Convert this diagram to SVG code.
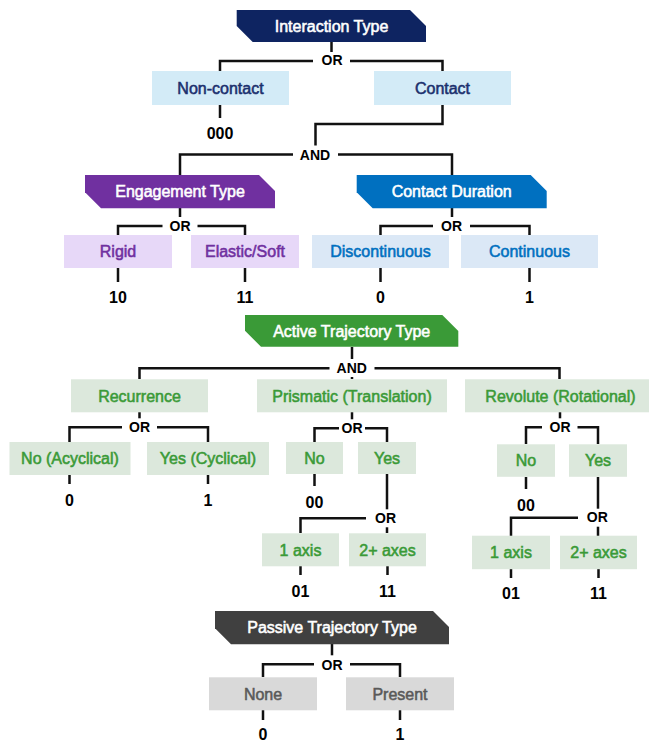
<svg xmlns="http://www.w3.org/2000/svg" width="649" height="744" viewBox="0 0 649 744">
<style>
text{font-family:"Liberation Sans",Arial,sans-serif;text-anchor:middle}
.ht{fill:#fff;stroke:#fff;stroke-width:.55;font-size:16px}
.nt{font-size:16px;stroke-width:.55}
.num{font-size:16px;font-weight:bold;fill:#000}
.gate{font-size:14px;font-weight:bold;fill:#000}
.gbg{fill:#fff}
.ln{fill:none;stroke:#111;stroke-width:2.5}
.h-navy{fill:#0e2461}.b-navy{fill:#d3ebf7}.t-navy{fill:#1b306e;stroke:#1b306e}
.h-purple{fill:#7030a0}.b-purple{fill:#e7d8f8}.t-purple{fill:#7030a0;stroke:#7030a0}
.h-blue{fill:#0070c0}.b-blue{fill:#dbe8f6}.t-blue{fill:#0070c0;stroke:#0070c0}
.h-green{fill:#3a9a37}.b-green{fill:#dce8dc}.t-green{fill:#3a9a37;stroke:#3a9a37}
.h-gray{fill:#404040}.b-gray{fill:#d9d9d9}.t-gray{fill:#595959;stroke:#595959}
</style>
<rect width="649" height="744" fill="#fff"/>

<g id="connectors">
<path class="ln" d="M331.5,42 V61 M220,71 V61 H442.5 V71"/>
<path class="ln" d="M220,105 V118"/>
<path class="ln" d="M442.5,105 V124 H315.5 V154.5"/>
<path class="ln" d="M180,175 V154.5 H452 V175"/>
<path class="ln" d="M180,208 V226 M118,235 V226 H245 V235"/>
<path class="ln" d="M118,268 V282 M245,268 V282"/>
<path class="ln" d="M452,208 V226 M380.5,235 V226 H529.5 V235"/>
<path class="ln" d="M380.5,268 V282 M529.5,268 V282"/>
<path class="ln" d="M352,347 V379 M139.5,379 V368.3 H559.5 V379"/>
<path class="ln" d="M139.5,412 V427.3 M69.5,442 V427.3 H208 V442"/>
<path class="ln" d="M69.5,475 V484 M208,475 V484"/>
<path class="ln" d="M352,412 V428.3 M314.5,442 V428.3 H387 V442"/>
<path class="ln" d="M314.5,474 V486 M387,474 V533 M300.5,533 V518.3 H387"/>
<path class="ln" d="M300.5,566 V575 M387.5,566 V575"/>
<path class="ln" d="M560,412 V427.3 M526,444 V427.3 H598 V444"/>
<path class="ln" d="M526,477 V489 M598,477 V536 M511,536 V517.7 H598"/>
<path class="ln" d="M511,569 V578 M598.5,569 V578"/>
<path class="ln" d="M332,644 V664.3 M263,677 V664.3 H400 V677"/>
<path class="ln" d="M263,710 V720 M400,710 V720"/>
</g>

<g id="gates">
<rect class="gbg" x="313" y="52" width="37" height="18"/><text class="gate" x="332" y="65">OR</text>
<rect class="gbg" x="293" y="145.5" width="45" height="18"/><text class="gate" x="315" y="159.5">AND</text>
<rect class="gbg" x="162.5" y="217" width="35" height="18"/><text class="gate" x="180" y="230.5">OR</text>
<rect class="gbg" x="433" y="217" width="37" height="18"/><text class="gate" x="451.5" y="230.5">OR</text>
<rect class="gbg" x="329.5" y="359" width="45" height="18"/><text class="gate" x="351.7" y="372.8">AND</text>
<rect class="gbg" x="122" y="418.3" width="35" height="18"/><text class="gate" x="139.5" y="431.8">OR</text>
<rect class="gbg" x="339" y="419.3" width="26" height="18"/><text class="gate" x="352" y="432.8">OR</text>
<rect class="gbg" x="366" y="509.3" width="36" height="18"/><text class="gate" x="385.5" y="522.8">OR</text>
<rect class="gbg" x="542" y="418.3" width="35.5" height="18"/><text class="gate" x="560" y="431.8">OR</text>
<rect class="gbg" x="578" y="508.7" width="36" height="18"/><text class="gate" x="597.3" y="522.2">OR</text>
<rect class="gbg" x="314" y="655.3" width="36" height="18"/><text class="gate" x="332" y="670">OR</text>
</g>

<g id="interaction-type"><polygon class="h-navy" points="236.7,10 410,10 426,26 426,42 252.7,42 236.7,26"/><text class="ht" x="331.5" y="31.5">Interaction Type</text></g>
<g id="non-contact"><rect class="b-navy" x="152" y="71" width="137" height="34"/><text class="nt t-navy" x="220.5" y="93.7">Non-contact</text><text class="num" x="220" y="139">000</text></g>
<g id="contact"><rect class="b-navy" x="374" y="71" width="137" height="34"/><text class="nt t-navy" x="442.5" y="93.7">Contact</text></g>

<g id="engagement-type"><polygon class="h-purple" points="85,175 259,175 275,191 275,208.3 101,208.3 85,192.3"/><text class="ht" x="180" y="197.4">Engagement Type</text></g>
<g id="rigid"><rect class="b-purple" x="64" y="235" width="108" height="33"/><text class="nt t-purple" x="118" y="257.2">Rigid</text><text class="num" x="118" y="303">10</text></g>
<g id="elastic-soft"><rect class="b-purple" x="191" y="235" width="108" height="33"/><text class="nt t-purple" x="245" y="257.2">Elastic/Soft</text><text class="num" x="245" y="303">11</text></g>

<g id="contact-duration"><polygon class="h-blue" points="356.7,175 530.7,175 546.7,191 546.7,208.3 372.7,208.3 356.7,192.3"/><text class="ht" x="451.7" y="197.4">Contact Duration</text></g>
<g id="discontinuous"><rect class="b-blue" x="312" y="235" width="137" height="33"/><text class="nt t-blue" x="380.5" y="257.2">Discontinuous</text><text class="num" x="380.5" y="303">0</text></g>
<g id="continuous"><rect class="b-blue" x="461" y="235" width="137" height="33"/><text class="nt t-blue" x="529.5" y="257.2">Continuous</text><text class="num" x="529.5" y="303">1</text></g>

<g id="active-trajectory-type"><polygon class="h-green" points="245,315 442.3,315 458.3,331 458.3,346.7 261,346.7 245,330.7"/><text class="ht" x="351.7" y="336.7">Active Trajectory Type</text></g>
<g id="recurrence"><rect class="b-green" x="71" y="379.3" width="137" height="33"/><text class="nt t-green" x="139.5" y="401.5">Recurrence</text></g>
<g id="prismatic"><rect class="b-green" x="257" y="379.3" width="190" height="33"/><text class="nt t-green" x="352" y="401.5">Prismatic (Translation)</text></g>
<g id="revolute"><rect class="b-green" x="465" y="379.3" width="190" height="33"/><text class="nt t-green" x="560.5" y="401.5">Revolute (Rotational)</text></g>

<g id="no-acyclical"><rect class="b-green" x="9.5" y="442" width="121" height="33"/><text class="nt t-green" x="70" y="464.2">No (Acyclical)</text><text class="num" x="69.5" y="505.5">0</text></g>
<g id="yes-cyclical"><rect class="b-green" x="147" y="442" width="122" height="33"/><text class="nt t-green" x="208" y="464.2">Yes (Cyclical)</text><text class="num" x="208" y="505.5">1</text></g>

<g id="prismatic-no"><rect class="b-green" x="286" y="442" width="57" height="32"/><text class="nt t-green" x="314.5" y="463.7">No</text><text class="num" x="314.5" y="508">00</text></g>
<g id="prismatic-yes"><rect class="b-green" x="358" y="442" width="58" height="32"/><text class="nt t-green" x="387" y="463.7">Yes</text></g>
<g id="prismatic-1-axis"><rect class="b-green" x="262" y="533.3" width="77" height="33"/><text class="nt t-green" x="300.5" y="555.5">1 axis</text><text class="num" x="300.5" y="597">01</text></g>
<g id="prismatic-2-axes"><rect class="b-green" x="349" y="533.3" width="77" height="33"/><text class="nt t-green" x="387.5" y="555.5">2+ axes</text><text class="num" x="387.5" y="597">11</text></g>

<g id="revolute-no"><rect class="b-green" x="497" y="444.3" width="58" height="32.5"/><text class="nt t-green" x="526" y="466.2">No</text><text class="num" x="526" y="511">00</text></g>
<g id="revolute-yes"><rect class="b-green" x="569" y="444.3" width="58" height="32.5"/><text class="nt t-green" x="598" y="466.2">Yes</text></g>
<g id="revolute-1-axis"><rect class="b-green" x="472" y="535.7" width="78" height="33.5"/><text class="nt t-green" x="511" y="558.2">1 axis</text><text class="num" x="511" y="599">01</text></g>
<g id="revolute-2-axes"><rect class="b-green" x="560" y="535.7" width="77" height="33.5"/><text class="nt t-green" x="598.5" y="558.2">2+ axes</text><text class="num" x="598.5" y="599">11</text></g>

<g id="passive-trajectory-type"><polygon class="h-gray" points="215,611 433,611 449,627 449,644.3 231,644.3 215,628.3"/><text class="ht" x="332" y="633.4">Passive Trajectory Type</text></g>
<g id="none"><rect class="b-gray" x="209" y="677.3" width="108" height="33"/><text class="nt t-gray" x="263" y="699.5">None</text><text class="num" x="263" y="740">0</text></g>
<g id="present"><rect class="b-gray" x="346" y="677.3" width="108" height="33"/><text class="nt t-gray" x="400" y="699.5">Present</text><text class="num" x="400" y="740">1</text></g>
</svg>
